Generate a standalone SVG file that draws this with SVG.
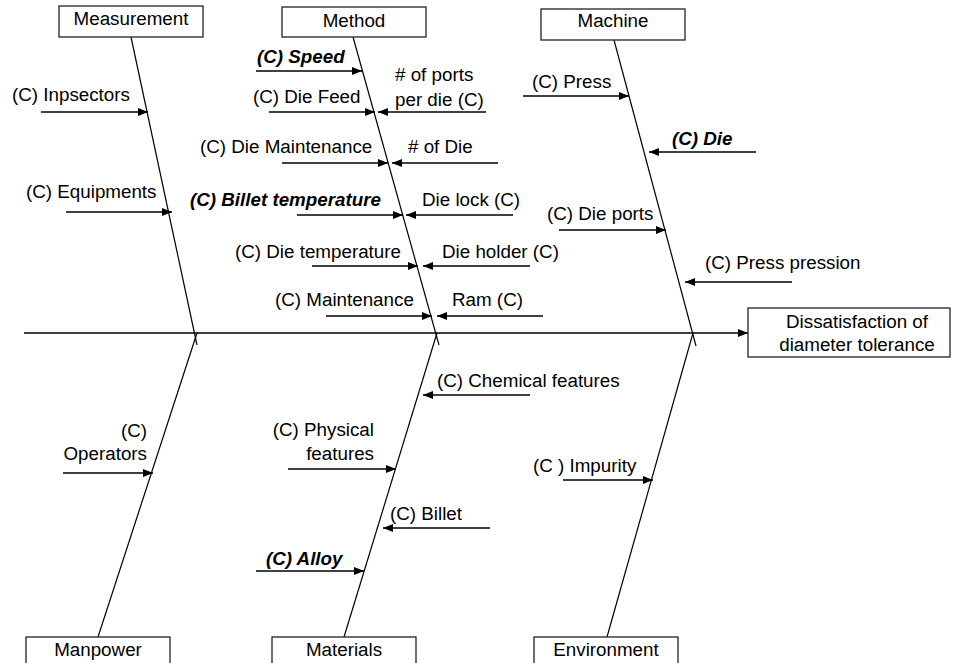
<svg xmlns="http://www.w3.org/2000/svg" width="954" height="663" viewBox="0 0 954 663">
<style>
text{font-family:"Liberation Sans",Arial,sans-serif;font-size:18.8px;fill:#000}
.b{font-weight:bold;font-style:italic}
.m{text-anchor:middle}
.e{text-anchor:end}
rect{fill:#fff;stroke:#222;stroke-width:1.3}
.sp{stroke:#000;stroke-width:1.2;fill:none}
.ar{stroke:#000;stroke-width:1.5;fill:none;marker-end:url(#ah)}
</style>
<defs>
<marker id="ah" markerUnits="userSpaceOnUse" markerWidth="10" markerHeight="8" refX="10" refY="4" orient="auto">
<path d="M0,0 L10,4 L0,8 z" fill="#000"/>
</marker>
</defs>
<g id="connectors">
<line class="ar" x1="24" y1="333" x2="748" y2="333"/>
<line class="sp" x1="131" y1="37" x2="197" y2="345"/>
<line class="sp" x1="353" y1="37" x2="439" y2="345"/>
<line class="sp" x1="614" y1="40" x2="696" y2="346"/>
<line class="sp" x1="98" y1="637" x2="197" y2="333"/>
<line class="sp" x1="344" y1="637" x2="437" y2="333"/>
<line class="sp" x1="607" y1="637" x2="693" y2="333"/>
<line class="ar" x1="41" y1="112" x2="148" y2="112"/>
<line class="ar" x1="66" y1="212" x2="172" y2="212"/>
<line class="ar" x1="256" y1="71" x2="362" y2="71"/>
<line class="ar" x1="269" y1="112" x2="375" y2="112"/>
<line class="ar" x1="486" y1="112" x2="378" y2="112"/>
<line class="ar" x1="282" y1="163" x2="388" y2="163"/>
<line class="ar" x1="498" y1="163" x2="392" y2="163"/>
<line class="ar" x1="297" y1="215" x2="403" y2="215"/>
<line class="ar" x1="513" y1="215" x2="406" y2="215"/>
<line class="ar" x1="312" y1="266" x2="418" y2="266"/>
<line class="ar" x1="530" y1="266" x2="423" y2="266"/>
<line class="ar" x1="326" y1="316" x2="432" y2="316"/>
<line class="ar" x1="543" y1="316" x2="437" y2="316"/>
<line class="ar" x1="523" y1="96" x2="629" y2="96"/>
<line class="ar" x1="756" y1="152" x2="649" y2="152"/>
<line class="ar" x1="559" y1="230" x2="666" y2="230"/>
<line class="ar" x1="792" y1="282" x2="685" y2="282"/>
<line class="ar" x1="63" y1="473" x2="153" y2="473"/>
<line class="ar" x1="530" y1="395" x2="423" y2="395"/>
<line class="ar" x1="288" y1="469" x2="396" y2="469"/>
<line class="ar" x1="490" y1="528" x2="383" y2="528"/>
<line class="ar" x1="256" y1="571" x2="364" y2="571"/>
<line class="ar" x1="563" y1="480" x2="653" y2="480"/>
</g>
<g id="measurement"><rect x="59" y="6" width="144" height="31"/><text class="m" x="131" y="25">Measurement</text></g>
<g id="method"><rect x="282" y="7" width="144" height="30"/><text class="m" x="354" y="27">Method</text></g>
<g id="machine"><rect x="541" y="9" width="144" height="31"/><text class="m" x="613" y="27">Machine</text></g>
<g id="manpower"><rect x="26" y="637" width="144" height="31"/><text class="m" x="98" y="656">Manpower</text></g>
<g id="materials"><rect x="272" y="637" width="144" height="31"/><text class="m" x="344" y="656">Materials</text></g>
<g id="environment"><rect x="534" y="637" width="144" height="31"/><text class="m" x="606" y="656">Environment</text></g>
<g id="effect"><rect x="748" y="308" width="202" height="49"/><text class="m" x="857" y="328">Dissatisfaction of</text><text class="m" x="857" y="351">diameter tolerance</text></g>
<g id="measurement-causes">
<text x="12" y="101">(C) Inpsectors</text>
<text x="26" y="198">(C) Equipments</text>
</g>
<g id="method-causes">
<text class="b" x="257" y="63">(C) Speed</text>
<text x="253" y="103">(C) Die Feed</text>
<text x="395" y="81"># of ports</text>
<text x="395" y="106">per die (C)</text>
<text x="200" y="153">(C) Die Maintenance</text>
<text x="408" y="153"># of Die</text>
<text class="b" x="190" y="206">(C) Billet temperature</text>
<text x="422" y="206">Die lock (C)</text>
<text x="235" y="258">(C) Die temperature</text>
<text x="442" y="258">Die holder (C)</text>
<text x="275" y="306">(C) Maintenance</text>
<text x="452" y="306">Ram (C)</text>
</g>
<g id="machine-causes">
<text x="532" y="88">(C) Press</text>
<text class="b" x="672" y="145">(C) Die</text>
<text x="547" y="220">(C) Die ports</text>
<text x="705" y="269">(C) Press pression</text>
</g>
<g id="manpower-causes">
<text class="e" x="147" y="437">(C)</text>
<text class="e" x="147" y="460">Operators</text>
</g>
<g id="materials-causes">
<text x="437" y="387">(C) Chemical features</text>
<text class="e" x="374" y="436">(C) Physical</text>
<text class="e" x="374" y="460">features</text>
<text x="390" y="520">(C) Billet</text>
<text class="b" x="266" y="565">(C) Alloy</text>
</g>
<g id="environment-causes">
<text x="533" y="472">(C ) Impurity</text>
</g>
</svg>
